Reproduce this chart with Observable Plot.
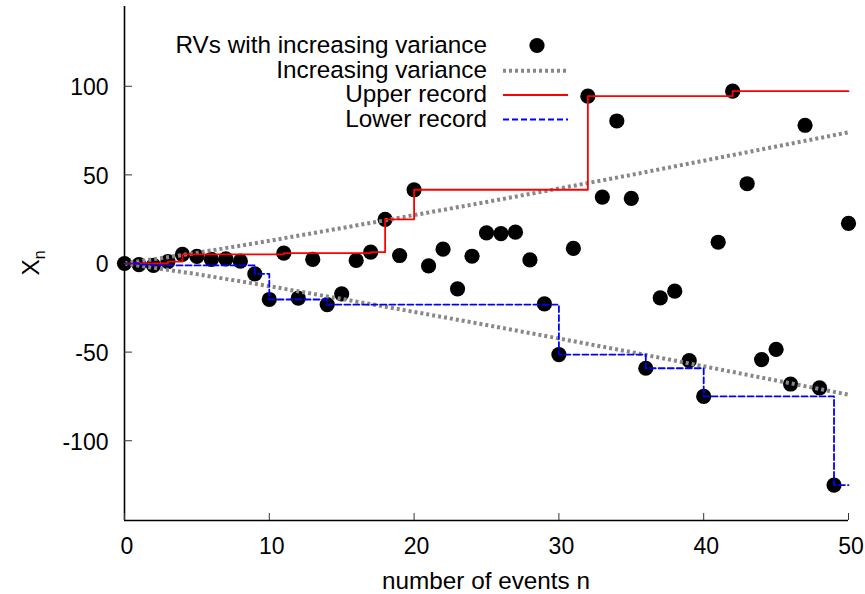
<!DOCTYPE html>
<html><head><meta charset="utf-8">
<script src="https://cdn.jsdelivr.net/npm/d3@7"></script>
<script src="https://cdn.jsdelivr.net/npm/@observablehq/plot@0.6"></script>
<style>html,body{margin:0;padding:0;background:#fff} svg{display:block}</style>
</head><body><div id="chart"></div>
<script>
// ---- data ----
const events = [0,1,2,3,4,5,6,7,8,9,10,11,12,13,14,15,16,17,18,19,20,21,22,23,24,25,26,27,28,29,30,31,32,33,34,35,36,37,38,39,40,41,42,43,44,45,46,47,48,49,50];
const values = [0,-0.6,-1.1,1.1,5.1,4,2.3,2.6,1.3,-5.8,-20.3,5.8,-19.6,2.3,-23.2,-17.1,1.7,6.4,24.9,4.5,41.6,-1.3,8.1,-14.3,4.1,17.3,16.9,17.7,2,-22.8,-51.4,8.5,94.4,37.5,80.4,36.7,-59.1,-19.4,-15.6,-54.8,-75,12,97.2,45,-54.2,-48.4,-68,78,-70.2,-125,22.6];
// envelope of the increasing standard deviation (read at several n)
const varianceN = [0, 5, 10, 15, 20, 25, 30, 35, 40, 45, 50];
const varianceSigma = [0, 6, 12.8, 20, 27.3, 34.7, 42.3, 50, 58, 66, 74];
const xTicks = [0, 10, 20, 30, 40, 50];
const yTicks = [-100, -50, 0, 50, 100];
const xDomain = [0, 50];
const yDomain = [-145, 145];
const legendLabels = ["RVs with increasing variance", "Increasing variance", "Upper record", "Lower record"];
const xTitle = "number of events n";

// ---- derived tables ----
const points = events.map((n, i) => ({n, v: values[i]}));
let mx = -Infinity, mn = Infinity;
const upper = points.map(d => ({n: d.n, v: (mx = Math.max(mx, d.v))}));
const lower = points.map(d => ({n: d.n, v: (mn = Math.min(mn, d.v))}));
const variance = [];
varianceN.forEach((n, i) => variance.push({n, v: varianceSigma[i], side: "up"}));
varianceN.forEach((n, i) => variance.push({n, v: -varianceSigma[i], side: "down"}));

const FONT = "'Liberation Sans', Arial, Helvetica, sans-serif";
const FS = 23;     // tick labels
const FL = 24.3;   // legend and titles

const plot = Plot.plot({
  width: 865, height: 594,
  marginLeft: 124, marginRight: 17, marginTop: 6, marginBottom: 74,
  x: {domain: xDomain},
  y: {domain: yDomain},
  style: {fontFamily: FONT, fontSize: FS + "px", color: "#000", background: "#fff"},
  marks: [
    Plot.dot(points, {x: "n", y: "v", r: 7.6, fill: "#000", stroke: null}),
    Plot.line(variance, {x: "n", y: "v", z: "side", stroke: "#888", strokeWidth: 4, strokeDasharray: "3,3", strokeLinecap: "butt"}),
    Plot.line(upper, {x: "n", y: "v", curve: "step-after", stroke: "#ff0000", strokeWidth: 1.8}),
    Plot.line(lower, {x: "n", y: "v", curve: "step-after", stroke: "#0000ff", strokeWidth: 1.8, strokeDasharray: "6,3"}),
    Plot.ruleX([xDomain[0]], {stroke: "#000", strokeWidth: 1.6}),
    Plot.ruleY([yDomain[0]], {stroke: "#000", strokeWidth: 1.6}),
    Plot.axisX({ticks: xTicks, tickSize: -7, tickFormat: () => "", label: null, stroke: "#333"}),
    Plot.axisX({ticks: xTicks, tickSize: 0, tickPadding: 17, dx: 2.5, label: null, fontSize: FS, fill: "#000", tickFormat: d => String(d)}),
    Plot.axisY({ticks: yTicks, tickSize: -8, tickFormat: () => "", label: null, stroke: "#333"}),
    Plot.axisY({ticks: yTicks, tickSize: 0, tickPadding: 16, dy: 1.5, label: null, fontSize: FS, fill: "#000", tickFormat: d => String(d)})
  ]
});
document.getElementById("chart").appendChild(plot);

// ---- titles and legend ----
const svg = d3.select(plot);
svg.append("text")
  .attr("x", 486).attr("y", 589).attr("text-anchor", "middle")
  .attr("font-family", FONT).attr("font-size", FL).attr("fill", "#000")
  .text(xTitle);
const yl = svg.append("text")
  .attr("transform", "translate(39,263) rotate(-90)").attr("text-anchor", "middle")
  .attr("font-family", FONT).attr("font-size", FL).attr("fill", "#000");
yl.append("tspan").text("X");
yl.append("tspan").attr("dy", 6).attr("font-size", 16).text("n");

const lg = svg.append("g").attr("font-family", FONT).attr("font-size", FL).attr("fill", "#000");
const baselines = [53, 77.5, 102, 126.5];
legendLabels.forEach((t, i) => {
  lg.append("text").attr("x", 487).attr("y", baselines[i]).attr("text-anchor", "end").text(t);
});
lg.append("circle").attr("cx", 537).attr("cy", 45.5).attr("r", 7.6).attr("fill", "#000");
lg.append("line").attr("x1", 503).attr("x2", 568).attr("y1", 70.7).attr("y2", 70.7)
  .attr("stroke", "#888").attr("stroke-width", 4).attr("stroke-dasharray", "3,3");
lg.append("line").attr("x1", 503).attr("x2", 568).attr("y1", 95).attr("y2", 95)
  .attr("stroke", "#ff0000").attr("stroke-width", 1.8);
lg.append("line").attr("x1", 503).attr("x2", 568).attr("y1", 119.5).attr("y2", 119.5)
  .attr("stroke", "#0000ff").attr("stroke-width", 1.8).attr("stroke-dasharray", "6,3");
</script>
</body></html>
